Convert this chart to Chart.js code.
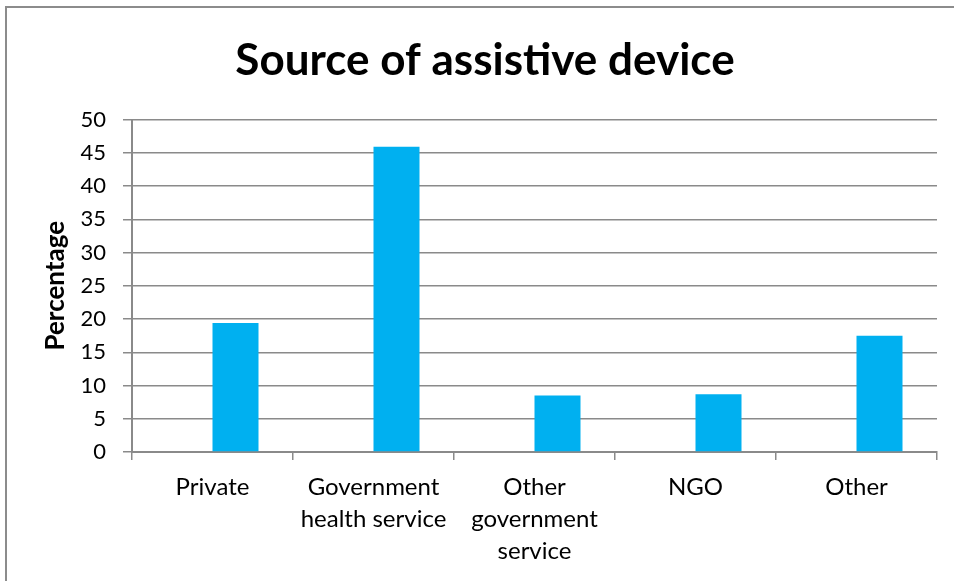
<!DOCTYPE html>
<html>
<head>
<meta charset="utf-8">
<script src="https://cdn.jsdelivr.net/npm/chart.js@4/dist/chart.umd.min.js"></script>
<style>
  html, body { margin: 0; padding: 0; background: #ffffff; }
  #wrap { position: relative; width: 954px; height: 581px; }
</style>
</head>
<body>
<div id="wrap"><canvas id="c" width="954" height="581"></canvas></div>
<script>
const categories = [
  "Private",
  ["Government", "health service"],
  ["Other", "government", "service"],
  "NGO",
  "Other"
];
const emptySeries = [null, null, null, null, null];
const percentages = [19.4, 45.9, 8.5, 8.7, 17.5];
const yTicks = [0, 5, 10, 15, 20, 25, 30, 35, 40, 45, 50];

const chartTitle = "Source of assistive device";
const yTitle = "Percentage";

const gridColor = "#8a8a8a";
const barColor = "#00B0F0";

const frame = {
  id: "frame",
  beforeDraw(chart) {
    const ctx = chart.ctx;
    ctx.save();
    ctx.fillStyle = "#ffffff";
    ctx.fillRect(0, 0, chart.width, chart.height);
    ctx.strokeStyle = "#8c8c8c";
    ctx.lineWidth = 2;
    ctx.strokeRect(6, 7, chart.width + 20, chart.height + 20);
    ctx.restore();
  }
};

new Chart(document.getElementById("c"), {
  type: "bar",
  data: {
    labels: categories,
    datasets: [
      { label: "Series 1", data: emptySeries, backgroundColor: barColor, yAxisID: "y" },
      { label: "Series 2", data: percentages, backgroundColor: barColor, yAxisID: "y" }
    ]
  },
  options: {
    responsive: false,
    animation: false,
    events: [],
    layout: { padding: { left: 16, right: 0, top: 0, bottom: 0 } },
    datasets: { bar: { categoryPercentage: 92 / 161, barPercentage: 1 } },
    plugins: {
      legend: { display: false },
      tooltip: { enabled: false },
      title: {
        display: true,
        text: chartTitle,
        color: "#000000",
        font: { family: "Lato", size: 44, weight: "bold", lineHeight: 1.2 },
        padding: { top: 34, bottom: 32.7 }
      }
    },
    scales: {
      x: {
        offset: true,
        grid: {
          display: true,
          drawOnChartArea: false,
          drawTicks: true,
          tickLength: 8,
          color: gridColor,
          lineWidth: 1.5,
          offset: true
        },
        border: { display: true, color: gridColor, width: 2 },
        ticks: {
          color: "#000000",
          font: { family: "Lato", size: 24, lineHeight: 1.33 },
          padding: 11,
          maxRotation: 0,
          minRotation: 0,
          autoSkip: false
        },
        afterFit(scale) { scale.height = 581 - 452; }
      },
      y: {
        min: 0,
        max: 50,
        afterBuildTicks(scale) { scale.ticks = yTicks.map(v => ({ value: v })); },
        grid: {
          color: gridColor,
          lineWidth: 1.5,
          drawTicks: true,
          tickLength: 9
        },
        border: { display: true, color: gridColor, width: 2 },
        ticks: {
          color: "#000000",
          font: { family: "Lato", size: 22 },
          padding: 17
        },
        title: {
          display: true,
          text: yTitle,
          color: "#000000",
          font: { family: "Lato", size: 26, weight: "bold", lineHeight: 1.2 },
          padding: { top: 24.4, bottom: 0 }
        },
        afterFit(scale) { scale.width = 116; }
      },
      yRight: {
        position: "right",
        display: true,
        min: 0,
        max: 50,
        grid: { display: false, drawOnChartArea: false, drawTicks: false },
        border: { display: false },
        ticks: { display: false },
        afterFit(scale) { scale.width = 17; }
      }
    }
  },
  plugins: [frame]
});
</script>
</body>
</html>
